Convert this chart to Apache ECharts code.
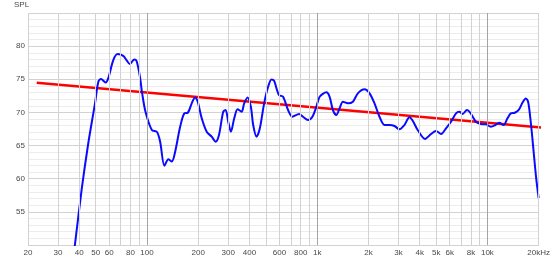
<!DOCTYPE html>
<html><head><meta charset="utf-8">
<script src="https://cdn.jsdelivr.net/npm/echarts@6/dist/echarts.min.js"></script>
<style>html,body{margin:0;padding:0;background:#fff}#c{width:553px;height:262px}</style>
</head><body><div id="c"></div>
<script>
// Measured response (frequency in Hz, level in dB SPL)
const freqHz = [36.7, 37.8, 41.3, 45.2, 49.5, 51.8, 53.7, 57.1, 59.2, 63.4, 67.2, 72.5, 75.8, 79.4, 84.1, 86.8, 90.9, 93.7, 98.0,
  106.8, 114.3, 119.5, 126.6, 133.6, 139.9, 146.3, 156.5, 165.8, 173.6, 183.2, 191.6, 198.7, 209.7, 224.3, 239.9, 253.2, 264.8,
  280.5, 289.8, 300.1, 311.3, 325.5, 340.8, 359.6, 372.5, 390.0, 407.7, 420.6, 440.3, 460.3, 487.8, 514.9, 539.1, 558.3, 576.7,
  597.2, 630.3, 674.3, 715.5, 782.2, 825.5, 883.1, 937.1, 989, 1034, 1132, 1183, 1237, 1295, 1354, 1416, 1515, 1620, 1733, 1897,
  2030, 2171, 2323, 2485, 2658, 2844, 3042, 3254, 3482, 3640, 3894, 4303, 4665, 4991, 5340, 5713, 6111, 6538, 6835, 7145, 7583,
  7928, 8561, 9159, 9797, 10481, 11061, 11722, 12422, 13112, 13730, 14489, 15355, 16053, 16806, 17337, 17811, 18225, 18800,
  19391, 20000];
const splDb = [47.5, 50.2, 58.3, 65.35, 71.37, 74.62, 75.03, 74.53, 75.14, 77.89, 78.8, 78.54, 77.89, 77.29, 78.0, 77.79, 75.38, 72.88, 70.11,
  67.35, 67.09, 65.59, 61.97, 62.94, 62.58, 64.04, 67.8, 69.86, 69.95, 71.37, 72.27, 71.61, 69.11, 67.09, 66.34, 65.59, 66.6,
  70.11, 70.36, 68.6, 67.09, 69.11, 70.47, 70.11, 71.37, 72.27, 70.86, 68.1, 66.34, 67.61, 71.37, 73.87, 74.98, 74.77, 73.63,
  72.62, 72.36, 70.36, 69.35, 69.76, 69.35, 68.86, 69.35, 70.86, 72.36, 73.03, 72.36, 70.36, 69.61, 70.62, 71.61, 71.37, 71.61, 72.88, 73.48,
  72.88, 71.37, 69.35, 68.1, 68.1, 67.95, 67.45, 68.1, 69.26, 68.75, 67.35, 66.0, 66.75, 67.2, 66.75, 67.61, 68.6, 69.86, 70.11, 69.76, 70.36,
  69.95, 68.6, 68.25, 68.21, 67.85, 68.06, 68.45, 68.1, 69.11, 69.86, 69.95, 70.47, 71.46, 72.12, 71.61, 69.46, 67.05, 63.33,
  59.82, 57.06];
// Target curve
const targetHz = [22.5, 21000];
const targetDb = [74.47, 67.7];
// Axis ticks
const xTickHz = [20, 30, 40, 50, 60, 80, 100, 200, 300, 400, 600, 800, 1000, 2000, 3000, 4000, 5000, 6000, 8000, 10000, 20000];
const xMinorGridHz = [30, 40, 50, 60, 70, 80, 90, 200, 300, 400, 500, 600, 700, 800, 900, 2000, 3000, 4000, 5000, 6000, 7000, 8000, 9000];
const xMajorGridHz = [100, 1000, 10000];
const xBorderHz = [20, 20000];
const yTickDb = [55, 60, 65, 70, 75, 80];

const FONT = 'Liberation Sans';
const chart = echarts.init(document.getElementById('c'));
const gridLines = [].concat(
  xBorderHz.map(v => ({xAxis: v, lineStyle: {color: '#d2d2d2', width: 1, type: 'solid'}})),
  xMinorGridHz.map(v => ({xAxis: v, lineStyle: {color: '#d2d2d2', width: 1, type: 'solid'}})),
  xMajorGridHz.map(v => ({xAxis: v, lineStyle: {color: '#a4a4a4', width: 1, type: 'solid'}}))
);
chart.setOption({
  animation: false,
  backgroundColor: '#ffffff',
  grid: {left: 28, right: 14, top: 13, bottom: 17},
  graphic: [{type: 'text', left: 14, top: 1, style: {text: 'SPL', font: '8px ' + FONT, fill: '#484848'}}],
  xAxis: {
    type: 'log', logBase: 10, min: 20, max: 20000,
    axisLine: {show: false}, axisTick: {show: false}, splitLine: {show: false}, minorSplitLine: {show: false},
    axisLabel: {
      customValues: xTickHz, margin: 4, fontSize: 8, fontFamily: FONT, color: '#484848',
      formatter: v => { const r = Math.round(v); if (r >= 20000) return '20kHz'; return r >= 1000 ? (r / 1000) + 'k' : String(r); }
    }
  },
  yAxis: {
    type: 'value', min: 50, max: 85, interval: 1,
    axisLine: {show: false}, axisTick: {show: false},
    splitLine: {show: true, lineStyle: {color: ['#d2d2d2', '#ececec', '#ececec', '#ececec', '#ececec'], width: 1}},
    axisLabel: {customValues: yTickDb, margin: 3, fontSize: 8, fontFamily: FONT, color: '#484848'}
  },
  series: [
    {type: 'line', data: [], z: 1, silent: true,
     markLine: {silent: true, symbol: ['none', 'none'], label: {show: false}, animation: false, data: gridLines}},
    {type: 'line', z: 3, clip: false, showSymbol: false, silent: true,
     data: targetHz.map((f, i) => [f, targetDb[i]]),
     lineStyle: {color: '#ff0000', width: 2.5}},
    {type: 'line', z: 4, showSymbol: false, silent: true, smooth: 0.3,
     data: freqHz.map((f, i) => [f, splDb[i]]),
     lineStyle: {color: '#0a0aff', width: 2}}
  ]
});
</script></body></html>
